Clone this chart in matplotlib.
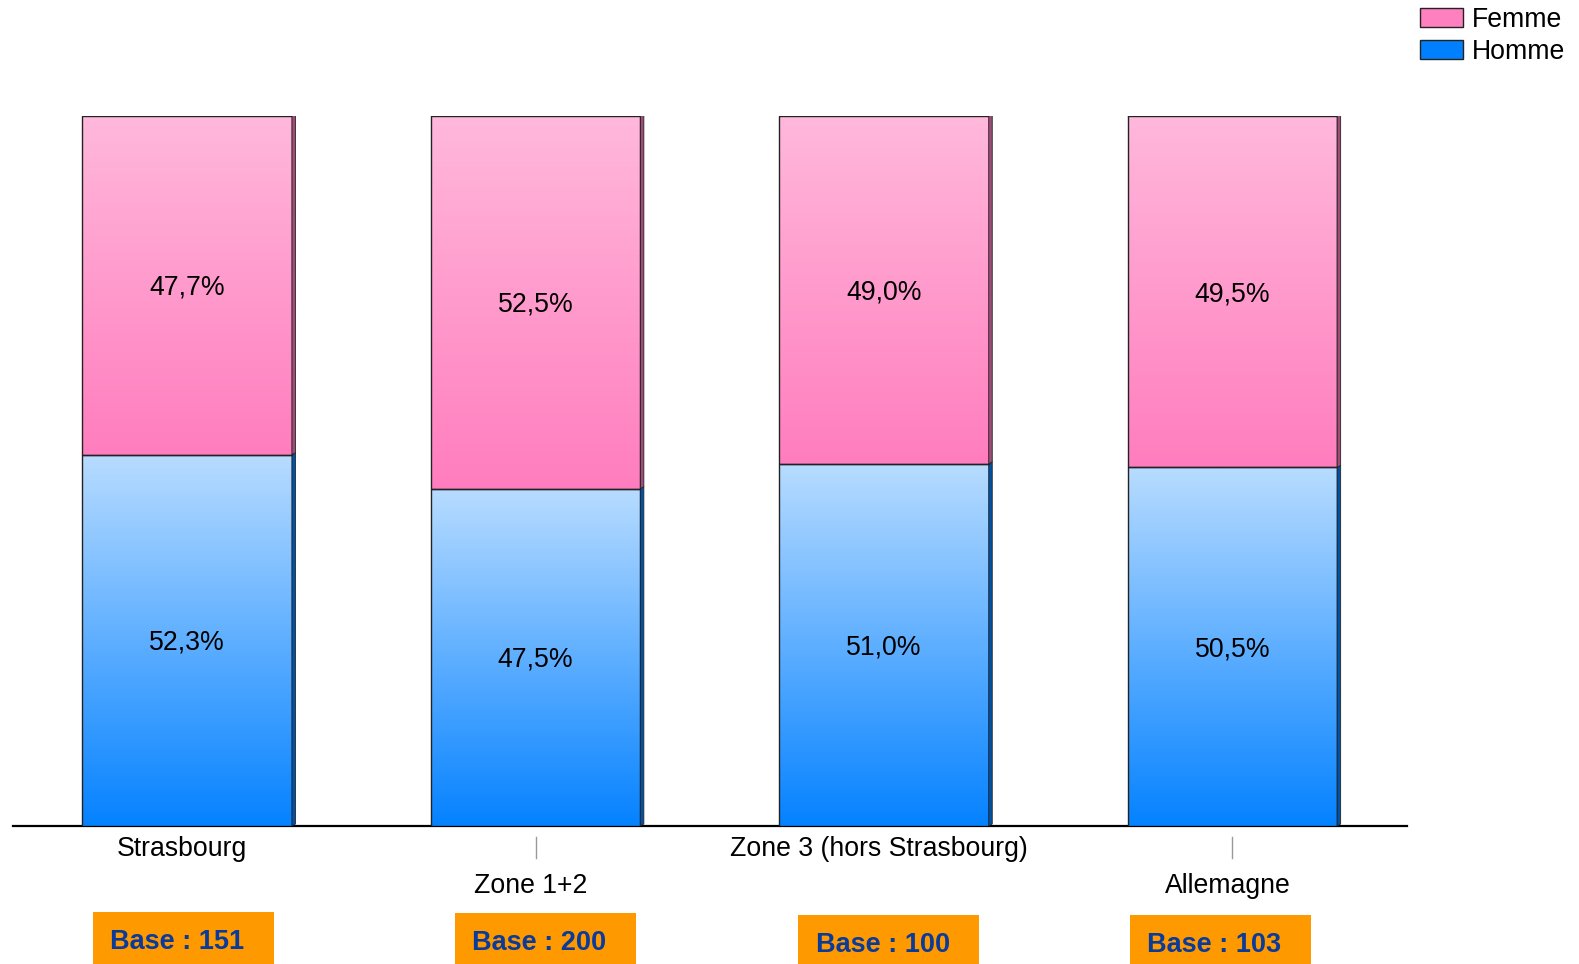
import matplotlib
matplotlib.use('Agg')
import matplotlib.pyplot as plt
import numpy as np
from matplotlib.patches import Rectangle, Polygon
from matplotlib.colors import to_rgb

categories = ["Strasbourg", "Zone 1+2", "Zone 3 (hors Strasbourg)", "Allemagne"]
homme = [52.3, 47.5, 51.0, 50.5]
femme = [47.7, 52.5, 49.0, 49.5]
bases = [151, 200, 100, 103]
series_names = ["Femme", "Homme"]

plt.rcParams['font.family'] = ['Liberation Sans', 'DejaVu Sans']

W, H = 1579, 964
fig = plt.figure(figsize=(W / 100, H / 100), dpi=100)
SP = 348.4          # px per category
AX_L, AX_B, AX_T = 13, 826, 116
ax = fig.add_axes([AX_L / W, (H - AX_B) / H, 4 * SP / W, (AX_B - AX_T) / H])
ax.set_xlim(-0.5, 3.5)
ax.set_ylim(0, 100)

PXX = 1 / SP
PXY = 100 / (AX_B - AX_T)

bar_w = 209.5 * PXX
dx = 3.5 * PXX
dy = 2.0 * PXY

pink_top, pink_bot = to_rgb('#FFB8DB'), to_rgb('#FF7DBE')
blue_top, blue_bot = to_rgb('#B8DCFF'), to_rgb('#0582FF')
pink_side = '#A04C78'
blue_side = '#0052A8'


def grad(c1, c2, n=256):
    t = np.linspace(0, 1, n)[:, None]
    arr = np.array(c1)[None, :] * (1 - t) + np.array(c2)[None, :] * t
    return arr[:, None, :]


def draw_seg(x, b, h, ctop, cbot, side, draw_top):
    l, r = x - bar_w / 2, x + bar_w / 2
    ax.imshow(grad(ctop, cbot), extent=[l, r, b, b + h], aspect='auto',
              origin='upper', interpolation='bilinear', zorder=2)
    ax.add_patch(Rectangle((l, b), bar_w, h, fill=False, ec='#222222', lw=1.0, zorder=3))
    ax.add_patch(Polygon([(r, b), (r + dx, b + dy), (r + dx, b + h + dy), (r, b + h)],
                         closed=True, fc=side, ec='#222222', lw=0.6, zorder=3))
    if draw_top:
        ax.add_patch(Polygon([(l, b + h), (l + dx, b + h + dy), (r + dx, b + h + dy), (r, b + h)],
                             closed=True, fc=side, ec='#222222', lw=0.6, zorder=3))


TXT_DY = -2.5 * PXY
for i in range(len(categories)):
    draw_seg(i, 0, homme[i], blue_top, blue_bot, blue_side, False)
    draw_seg(i, homme[i], femme[i], pink_top, pink_bot, pink_side, True)
    ax.text(i, homme[i] / 2 + TXT_DY, f"{homme[i]:.1f}%".replace('.', ','), ha='center',
            va='center', fontsize=19.2, color='black', zorder=5)
    ax.text(i, homme[i] + femme[i] / 2 + TXT_DY, f"{femme[i]:.1f}%".replace('.', ','),
            ha='center', va='center', fontsize=19.2, color='black', zorder=5)

ax.set_xlim(-0.5, 3.5)
ax.set_ylim(0, 100)
for s in ['top', 'right', 'left']:
    ax.spines[s].set_visible(False)
ax.spines['bottom'].set_linewidth(1.6)
ax.spines['bottom'].set_color('black')
ax.spines['bottom'].set_zorder(1)
ax.set_xticks([])
ax.set_yticks([])
ax.patch.set_alpha(0)

# category labels (staggered)
for i, cat in enumerate(categories):
    if i % 2 == 0:
        ax.text(i - 5 * PXX, -23 * PXY, cat, ha='center', va='center', fontsize=19.2,
                clip_on=False)
    else:
        ax.plot([i, i], [-11 * PXY, -32 * PXY], color='#999999', lw=1.0, clip_on=False)
        ax.text(i - 5 * PXX, -60 * PXY, cat, ha='center', va='center', fontsize=19.2,
                clip_on=False)

# base boxes
box_off = [-4, 10, 5, -12]
box_top = [912, 913, 915, 915]
for i, b in enumerate(bases):
    cx = 187 + SP * i + box_off[i]
    top = box_top[i]
    fig.add_artist(Rectangle(((cx - 90.5) / W, 0), 181 / W, (H - top) / H,
                             transform=fig.transFigure, fc='#FF9900', ec='none'))
    fig.text((cx - 6) / W, (H - (top + 30)) / H, f"Base : {b}", ha='center', va='center',
             fontsize=19.5, fontweight='bold', color='#0A3A9A')

# legend
leg_cols = ['#FF80BF', '#0080FF']
for k, (name, col) in enumerate(zip(series_names, leg_cols)):
    y0 = 8 + 32 * k
    fig.add_artist(Rectangle((1420 / W, (H - y0 - 19) / H), 43 / W, 19 / H,
                             transform=fig.transFigure, fc=col, ec='#222222', lw=1.0))
    fig.text(1472 / W, (H - y0 - 12) / H, name, ha='left', va='center', fontsize=19.2)

fig.savefig('out.png', dpi=100)
